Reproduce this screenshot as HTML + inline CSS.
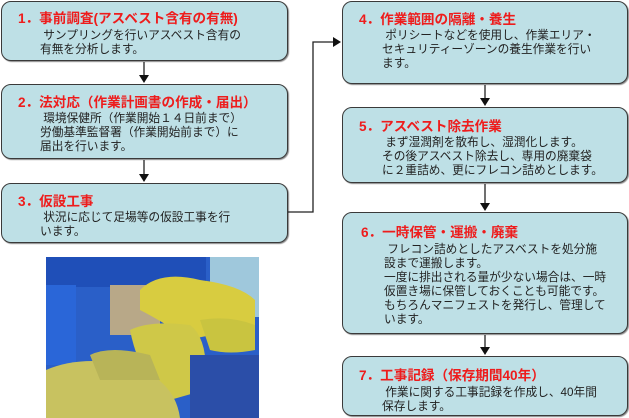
<!DOCTYPE html>
<html><head><meta charset="utf-8"><style>
body{margin:0;width:629px;height:418px;background:#fff;position:relative;overflow:hidden;font-family:"Liberation Sans","Noto Sans CJK JP",sans-serif;}
.b{position:absolute;box-sizing:border-box;border:1.5px solid #3a3a3a;border-radius:10px;background:#bee0e6;box-shadow:1px 1px 1px #888;}
.t{position:absolute;color:#ee1c1c;font-weight:bold;font-size:13.6px;line-height:14px;white-space:nowrap;}
.p{position:absolute;color:#222;font-size:11.7px;line-height:14px;white-space:nowrap;}
</style></head><body>
<div class="b" style="left:1px;top:1px;width:287px;height:60px"></div>
<div class="t" style="left:18px;top:12px">1．事前調査(アスベスト含有の有無)</div>
<div class="p" style="left:40px;top:29px">&nbsp;サンプリングを行いアスベスト含有の<br>有無を分析します。</div>

<div class="b" style="left:1px;top:84px;width:287px;height:75px"></div>
<div class="t" style="left:18px;top:96px">2．法対応（作業計画書の作成・届出）</div>
<div class="p" style="left:40px;top:112px">&nbsp;環境保健所（作業開始１４日前まで）<br>労働基準監督署（作業開始前まで）に<br>届出を行います。</div>

<div class="b" style="left:1px;top:183px;width:287px;height:60px"></div>
<div class="t" style="left:18px;top:195px">3．仮設工事</div>
<div class="p" style="left:40px;top:211px">&nbsp;状況に応じて足場等の仮設工事を行<br>います。</div>

<div class="b" style="left:342px;top:1px;width:286px;height:83px"></div>
<div class="t" style="left:359px;top:13px">4．作業範囲の隔離・養生</div>
<div class="p" style="left:382px;top:29px">&nbsp;ポリシートなどを使用し、作業エリア・<br>セキュリティーゾーンの養生作業を行い<br>ます。</div>

<div class="b" style="left:342px;top:107px;width:286px;height:76px"></div>
<div class="t" style="left:359px;top:120px">5．アスベスト除去作業</div>
<div class="p" style="left:382px;top:136px">&nbsp;まず湿潤剤を散布し、湿潤化します。<br>その後アスベスト除去し、専用の廃棄袋<br>に２重詰め、更にフレコン詰めとします。</div>

<div class="b" style="left:342px;top:212px;width:286px;height:122px"></div>
<div class="t" style="left:361px;top:226px">6．一時保管・運搬・廃棄</div>
<div class="p" style="left:384px;top:243px">&nbsp;フレコン詰めとしたアスベストを処分施<br>設まで運搬します。<br>一度に排出される量が少ない場合は、一時<br>仮置き場に保管しておくことも可能です。<br>もちろんマニフェストを発行し、管理して<br>います。</div>

<div class="b" style="left:342px;top:356px;width:286px;height:60px"></div>
<div class="t" style="left:359px;top:369px">7．工事記録（保存期間40年）</div>
<div class="p" style="left:382px;top:386px">&nbsp;作業に関する工事記録を作成し、40年間<br>保存します。</div>

<svg width="629" height="418" style="position:absolute;left:0;top:0" xmlns="http://www.w3.org/2000/svg">
<g stroke="#222" stroke-width="1.3" fill="none">
<line x1="144" y1="62" x2="144" y2="76"/>
<line x1="144" y1="160" x2="144" y2="175"/>
<polyline points="288,212 313,212 313,42 334,42"/>
<line x1="485" y1="85" x2="485" y2="99"/>
<line x1="485" y1="184" x2="485" y2="204"/>
<line x1="485" y1="335" x2="485" y2="348"/>
</g>
<g fill="#111">
<polygon points="139,75 149,75 144,83"/>
<polygon points="139,174 149,174 144,182"/>
<polygon points="333,37 333,47 341,42"/>
<polygon points="480,98 490,98 485,106"/>
<polygon points="480,203 490,203 485,211"/>
<polygon points="480,347 490,347 485,355"/>
</g>
<g>
<rect x="46" y="257" width="213" height="161" fill="#2a5fc8"/>
<rect x="46" y="257" width="160" height="30" fill="#1f4fb8"/>
<rect x="210" y="257" width="49" height="60" fill="#9fc8dc"/>
<rect x="46" y="285" width="30" height="80" fill="#2a66d8"/>
<rect x="110" y="285" width="50" height="50" fill="#b8a888"/>
<path d="M140,290 Q160,270 200,280 Q240,285 255,300 L255,340 Q220,330 190,340 Q160,320 140,310Z" fill="#d8cc40"/>
<path d="M130,330 Q150,320 190,325 Q210,340 205,390 L170,400 Q140,380 130,330Z" fill="#cfc848"/>
<path d="M46,370 Q80,355 130,365 Q175,380 180,418 L46,418Z" fill="#c8c260"/>
<path d="M90,355 Q110,345 150,355 L160,380 L100,380Z" fill="#b8b458"/>
<path d="M200,320 Q230,315 255,325 L255,350 Q230,355 210,350Z" fill="#c9c440"/>
<rect x="190" y="355" width="69" height="63" fill="#2b4ea8"/>
</g>
</svg>
</body></html>
